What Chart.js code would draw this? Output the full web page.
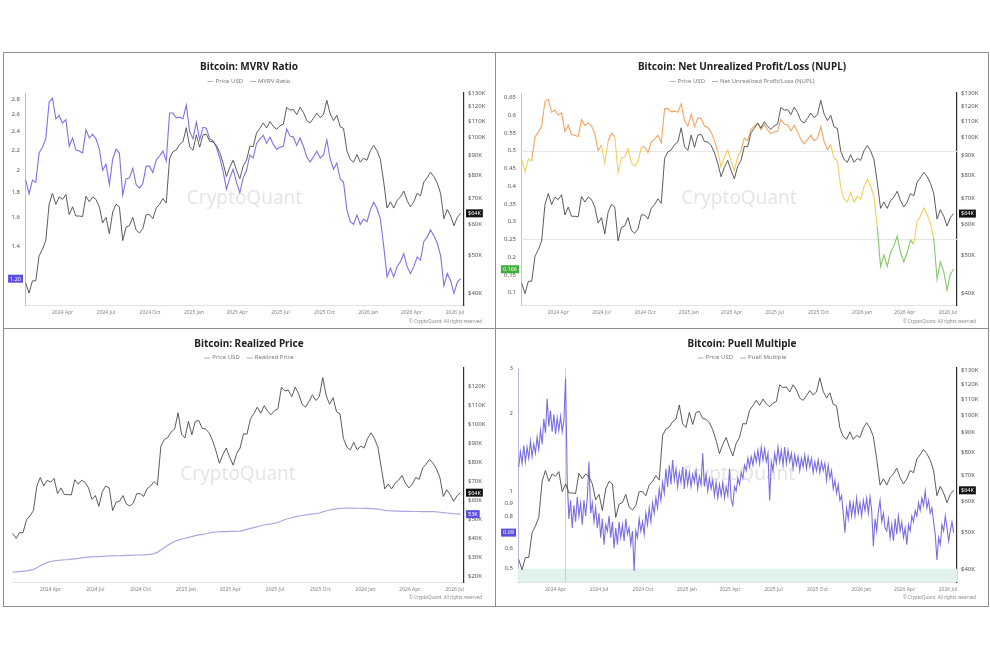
<!DOCTYPE html>
<html><head><meta charset="utf-8">
<script src="https://cdn.jsdelivr.net/npm/chart.js@4.4.0/dist/chart.umd.min.js"></script>
<style>
html,body{margin:0;padding:0;background:#fff;width:990px;height:660px;overflow:hidden;}
.frame{position:absolute;border:1px solid #8f8f8f;box-sizing:border-box;}
canvas{position:absolute;display:block;}
</style></head><body>
<div class="frame" style="left:3px;top:52px;width:493px;height:277px"></div>
<div class="frame" style="left:495px;top:52px;width:494px;height:277px"></div>
<div class="frame" style="left:3px;top:328px;width:493px;height:279px"></div>
<div class="frame" style="left:495px;top:328px;width:494px;height:279px"></div>
<canvas id="c1"></canvas><canvas id="c2"></canvas><canvas id="c3"></canvas><canvas id="c4"></canvas>
<script>
// ---------- DATA (samples starting 2024-01-15) ----------
const startDate = '2024-01-15';
const stepDays = 7;        // weekly samples for price, realized price, MVRV, NUPL
const puellStepDays = 3.5; // twice-weekly samples for the Puell multiple
const tickDates = ['2024-04-01','2024-07-01','2024-10-01','2025-01-01','2025-04-01','2025-07-01','2025-10-01','2026-01-01','2026-04-01','2026-07-01'];
const tickLabels = ['2024 Apr','2024 Jul','2024 Oct','2025 Jan','2025 Apr','2025 Jul','2025 Oct','2026 Jan','2026 Apr','2026 Jul'];
const halvingDate = '2024-04-20';

// BTC price, thousands of USD
const priceUSD = [42.5,40.0,43.0,43.0,49.8,51.8,54.5,67.5,72.0,67.5,
70.5,69.5,71.5,63.5,66.5,63.0,63.0,62.8,70.8,68.5,
70.5,69.5,66.5,60.5,62.5,56.8,64.5,67.5,66.5,54.5,
59.0,59.5,62.5,58.0,57.0,58.5,63.5,63.5,62.0,66.0,
67.5,69.8,68.0,88.5,92.0,93.0,96.0,97.5,106.0,94.8,
92.8,101.5,94.5,101.5,102.0,97.8,97.5,95.5,91.5,86.0,
79.5,84.0,87.5,82.5,78.5,84.5,87.5,95.0,94.8,102.8,
105.6,109.0,105.8,109.8,106.8,105.0,107.2,108.2,119.5,117.5,
118.0,114.5,119.5,116.0,110.5,109.0,112.0,115.5,112.5,114.5,
124.5,115.0,110.5,114.0,106.5,105.5,92.5,88.0,86.5,90.5,
86.5,88.5,87.5,92.5,95.5,92.5,88.0,77.0,66.0,68.5,
66.0,69.0,70.5,73.0,69.0,66.5,68.5,72.0,71.0,77.0,
79.0,81.5,79.5,76.5,72.0,62.0,65.5,63.0,59.5,62.5,
64.0];

// Realized price, thousands of USD
const realizedPrice = [22.2,22.3,22.5,22.7,22.9,23.2,23.5,24.5,25.6,26.5,
27.2,27.8,28.1,28.3,28.5,28.7,28.8,29.0,29.2,29.4,
29.7,30.0,30.1,30.2,30.3,30.4,30.5,30.6,30.7,30.7,
30.8,30.8,30.9,31.0,31.0,31.1,31.2,31.2,31.3,31.4,
31.5,31.9,32.6,33.8,35.1,36.3,37.4,38.3,39.0,39.5,
40.0,40.5,40.9,41.4,41.8,42.1,42.4,42.8,43.1,43.3,
43.4,43.5,43.5,43.6,43.6,43.7,43.8,44.2,44.7,45.2,
45.6,46.1,46.6,47.0,47.3,47.6,48.0,48.3,49.1,49.9,
50.4,50.8,51.3,51.7,52.0,52.3,52.5,52.8,53.0,53.3,
53.9,54.5,54.9,55.2,55.5,55.7,55.8,55.9,55.9,55.9,
55.8,55.8,55.7,55.7,55.6,55.5,55.3,55.0,54.7,54.5,
54.4,54.3,54.3,54.2,54.2,54.2,54.1,54.1,54.1,54.0,
54.0,54.0,54.0,53.9,53.7,53.5,53.3,53.1,52.9,52.8,
52.7];

const mvrvRatio = [1.91,1.79,1.91,1.89,2.17,2.23,2.32,2.76,2.81,2.55,
2.59,2.50,2.54,2.24,2.33,2.20,2.19,2.17,2.42,2.33,
2.37,2.32,2.21,2.00,2.06,1.87,2.11,2.21,2.17,1.78,
1.92,1.93,2.02,1.87,1.84,1.88,2.04,2.04,1.98,2.10,
2.14,2.19,2.09,2.62,2.62,2.56,2.57,2.55,2.72,2.40,
2.32,2.51,2.31,2.45,2.44,2.32,2.30,2.23,2.12,1.99,
1.83,1.93,2.01,1.89,1.80,1.93,2.00,2.15,2.12,2.27,
2.32,2.36,2.27,2.34,2.26,2.21,2.23,2.24,2.43,2.35,
2.34,2.25,2.33,2.24,2.13,2.08,2.13,2.19,2.12,2.15,
2.31,2.11,2.01,2.07,1.92,1.89,1.66,1.57,1.55,1.62,
1.55,1.59,1.57,1.66,1.72,1.67,1.59,1.40,1.21,1.26,
1.21,1.27,1.30,1.35,1.27,1.23,1.27,1.33,1.31,1.43,
1.46,1.51,1.47,1.42,1.34,1.16,1.23,1.19,1.12,1.18,
1.20];

const nupl = [0.476,0.441,0.476,0.471,0.539,0.552,0.569,0.638,0.644,0.608,
0.614,0.600,0.606,0.554,0.571,0.545,0.543,0.539,0.587,0.571,
0.578,0.569,0.548,0.500,0.515,0.465,0.526,0.548,0.539,0.438,
0.479,0.482,0.505,0.465,0.457,0.468,0.510,0.510,0.495,0.524,
0.533,0.543,0.522,0.618,0.618,0.609,0.611,0.608,0.632,0.583,
0.569,0.602,0.567,0.592,0.590,0.569,0.565,0.552,0.528,0.497,
0.454,0.482,0.502,0.471,0.444,0.482,0.500,0.535,0.528,0.559,
0.569,0.576,0.559,0.573,0.558,0.548,0.552,0.554,0.588,0.574,
0.573,0.556,0.571,0.554,0.531,0.519,0.531,0.543,0.528,0.535,
0.567,0.526,0.502,0.517,0.479,0.471,0.398,0.363,0.355,0.383,
0.355,0.371,0.363,0.398,0.419,0.401,0.371,0.286,0.174,0.206,
0.174,0.213,0.231,0.259,0.213,0.187,0.213,0.248,0.237,0.301,
0.315,0.338,0.320,0.296,0.254,0.138,0.187,0.160,0.107,0.153,
0.166];

// Puell multiple, sampled every 3.5 days
const puellMultiple = [1.24,1.42,1.28,1.50,1.30,1.48,1.34,1.56,1.36,1.52,
1.40,1.62,1.45,1.72,1.52,1.90,1.68,2.28,1.78,2.05,
1.70,1.98,1.66,1.92,1.72,1.95,1.70,1.88,2.74,1.10,
0.78,0.92,0.72,0.88,0.76,0.95,0.80,0.90,0.74,0.92,
0.80,0.94,1.30,0.82,0.90,0.76,0.86,0.72,0.82,0.66,
0.78,0.62,0.74,0.70,0.80,0.66,0.76,0.60,0.72,0.62,
0.76,0.66,0.74,0.64,0.78,0.68,0.72,0.62,0.70,0.49,
0.70,0.66,0.78,0.70,0.76,0.68,0.82,0.74,0.86,0.76,
0.90,0.82,0.94,0.86,1.02,0.92,1.08,0.98,1.22,1.04,
1.26,1.06,1.32,1.10,1.22,1.04,1.18,1.08,1.24,1.02,
1.22,1.06,1.18,1.04,1.16,1.08,1.20,1.02,1.14,1.06,
1.40,1.04,1.16,1.00,1.12,1.02,1.10,0.96,1.08,0.94,
1.06,0.96,1.08,0.94,1.04,0.96,1.22,0.92,0.88,1.04,
1.00,1.12,1.06,1.18,1.12,1.26,1.20,1.34,1.24,1.36,
1.26,1.40,1.30,1.44,1.28,1.48,1.32,1.46,1.30,1.40,
0.92,1.30,1.20,1.40,1.28,1.48,1.30,1.44,1.26,1.48,
1.28,1.44,1.30,1.40,1.22,1.38,1.26,1.36,1.20,1.34,
1.24,1.38,1.22,1.36,1.24,1.34,1.18,1.30,1.20,1.32,
1.18,1.30,1.20,1.28,1.10,1.26,1.12,1.20,1.02,1.10,
0.98,1.06,0.92,0.96,0.82,0.69,0.86,0.78,0.92,0.80,
0.90,0.80,0.94,0.82,0.90,0.80,0.92,0.84,0.94,0.82,
0.95,0.84,0.61,0.78,0.70,0.84,0.92,0.76,0.82,0.72,
0.70,0.78,0.66,0.74,0.64,0.78,0.68,0.80,0.70,0.76,
0.66,0.72,0.62,0.74,0.70,0.80,0.76,0.84,0.80,0.90,
0.84,0.94,0.88,1.00,0.86,0.92,0.82,0.86,0.76,0.68,
0.54,0.66,0.62,0.74,0.70,0.80,0.72,0.64,0.70,0.76,
0.69];

// tick values
const priceTicksLog = [40,50,60,70,80,90,100,110,120,130];
const priceTicksLin = [20,30,40,50,60,70,80,90,100,110,120];
const mvrvTicks = [1.2,1.4,1.6,1.8,2,2.2,2.4,2.6,2.8];
const nuplTicks = [0.1,0.15,0.2,0.25,0.3,0.35,0.4,0.45,0.5,0.55,0.6,0.65];
const puellTicks = [0.5,0.6,0.7,0.8,0.9,1,2,3];
const nuplZoneLines = [0.25,0.5];
const puellLowZone = 0.5;

// ---------- helpers ----------
const DAY = 86400000;
const dayOf = s => (Date.parse(s) - Date.parse(startDate)) / DAY;
const toPts = (arr, step) => arr.map((v, i) => ({x: i * (step || stepDays), y: v}));
const last = arr => arr[arr.length - 1];
const FONT = '"Noto Sans", "Open Sans", sans-serif';
Chart.defaults.font.family = FONT;

const COL = {
  price: '#4a4a4a', mvrv: '#7e72e6', realized: '#aaa6e6', puell: '#7a6ee3',
  orange: '#f3a463', yellow: '#f3cf5c', green: '#85c96c'
};

const decor = {
  id: 'decor',
  beforeDatasetsDraw(chart, args, o) {
    const {ctx, chartArea: a, scales} = chart;
    ctx.save();
    if (o.lowZone != null) {
      const y = scales.yL.getPixelForValue(o.lowZone);
      ctx.fillStyle = '#e1f2ea';
      ctx.fillRect(a.left, y, a.right - a.left, a.bottom - y);
    }
    if (o.zoneLines) {
      ctx.strokeStyle = '#e6e6e6'; ctx.lineWidth = 1;
      o.zoneLines.forEach(v => {
        const y = Math.round(scales.yL.getPixelForValue(v)) + 0.5;
        ctx.beginPath(); ctx.moveTo(a.left, y); ctx.lineTo(a.right, y); ctx.stroke();
      });
    }
    if (o.vline != null) {
      const x = Math.round(scales.x.getPixelForValue(o.vline)) + 0.5;
      ctx.strokeStyle = 'rgba(175,170,225,0.55)'; ctx.lineWidth = 1;
      ctx.beginPath(); ctx.moveTo(x, a.top); ctx.lineTo(x, a.bottom); ctx.stroke();
    }
    ctx.font = '19px ' + FONT;
    ctx.fillStyle = 'rgba(0,0,0,0.11)';
    ctx.textAlign = 'center'; ctx.textBaseline = 'middle';
    ctx.fillText('CryptoQuant', (a.left + a.right) / 2, (a.top + a.bottom) / 2);
    ctx.restore();
  },
  afterDraw(chart, args, o) {
    const {ctx, chartArea: a, scales, width} = chart;
    ctx.save();
    const cx = width / 2;
    ctx.font = 'bold 10px ' + FONT;
    ctx.fillStyle = '#222'; ctx.textAlign = 'center'; ctx.textBaseline = 'middle';
    ctx.fillText(o.title, cx, o.titleY);
    // legend
    ctx.font = '6px ' + FONT;
    const seg = 6, gap = 2, sp = 7;
    let tw = 0;
    o.legend.forEach(t => { tw += seg + gap + ctx.measureText(t).width; });
    tw += sp * (o.legend.length - 1);
    let x = cx - tw / 2;
    const ly = o.legendY;
    o.legend.forEach(t => {
      ctx.strokeStyle = '#9c9c9c'; ctx.lineWidth = 0.8;
      ctx.beginPath(); ctx.moveTo(x, ly + 0.5); ctx.lineTo(x + seg, ly + 0.5); ctx.stroke();
      x += seg + gap;
      ctx.fillStyle = '#7a7a7a'; ctx.textAlign = 'left'; ctx.textBaseline = 'middle';
      ctx.fillText(t, x, ly);
      x += ctx.measureText(t).width + sp;
    });
    // copyright
    ctx.font = '4.5px ' + FONT;
    ctx.fillStyle = '#8a8a8a'; ctx.textAlign = 'right'; ctx.textBaseline = 'middle';
    ctx.fillText('\u00A9 CryptoQuant. All rights reserved', width - 12, o.copyY);
    // badges
    (o.badges || []).forEach(b => {
      const y = scales[b.axis].getPixelForValue(b.value);
      ctx.font = '5.5px ' + FONT;
      const w = ctx.measureText(b.text).width + 4, h = 8;
      const bx = b.axis === 'yL' ? a.left - 2 - w : a.right + 2;
      ctx.fillStyle = b.bg; ctx.fillRect(bx, y - h / 2, w, h);
      ctx.fillStyle = '#fff'; ctx.textAlign = 'left'; ctx.textBaseline = 'middle';
      ctx.fillText(b.text, bx + 2, y + 0.3);
    });
    ctx.restore();
  }
};

const X_MIN = -1.5, X_MAX = 917;
const fmtNum = v => String(+(+v).toFixed(2));
const fmtK = v => '$' + v + 'K';

function makeChart(id, box, plot, cfg) {
  const cv = document.getElementById(id);
  cv.width = box.w; cv.height = box.h;
  cv.style.left = box.x + 'px'; cv.style.top = box.y + 'px';
  cv.style.width = box.w + 'px'; cv.style.height = box.h + 'px';
  const leftW = plot.l - box.x, rightW = box.x + box.w - plot.r;
  const topP = plot.t - box.y, botH = box.y + box.h - plot.b;
  const scales = {
    x: {
      type: 'linear', min: X_MIN, max: X_MAX,
      afterFit: s => { s.height = botH; },
      afterBuildTicks: s => { s.ticks = tickDates.map(d => ({value: dayOf(d)})); },
      ticks: {autoSkip: false, maxRotation: 0, padding: 5, font: {size: 5}, color: '#858585',
        callback: (v, i) => tickLabels[i]},
      grid: {display: false, drawTicks: false},
      border: {display: true, color: '#e2e2e2', width: 1}
    },
    yR: {
      type: cfg.right.type, position: 'right', min: cfg.right.min, max: cfg.right.max,
      afterFit: s => { s.width = rightW; },
      afterBuildTicks: s => { s.ticks = cfg.right.ticks.map(v => ({value: v})); },
      ticks: {autoSkip: false, padding: 4, font: {size: 6}, color: '#555', callback: fmtK},
      grid: {display: false, drawTicks: false},
      border: {display: true, color: '#2e2e2e', width: 1.2}
    }
  };
  if (cfg.left) {
    scales.yL = {
      type: cfg.left.type, position: 'left', min: cfg.left.min, max: cfg.left.max,
      afterFit: s => { s.width = leftW; },
      afterBuildTicks: s => { s.ticks = cfg.left.ticks.map(v => ({value: v})); },
      ticks: {autoSkip: false, padding: 5, font: {size: 6}, color: '#555', callback: fmtNum},
      grid: {display: false, drawTicks: false},
      border: {display: true, color: cfg.left.axisColor, width: 1}
    };
  }
  return new Chart(cv, {
    type: 'line',
    data: {datasets: cfg.datasets},
    options: {
      responsive: false, animation: false, devicePixelRatio: 1,
      layout: {padding: {top: topP, left: cfg.left ? 0 : leftW, right: 0, bottom: 0}},
      scales,
      elements: {point: {radius: 0}, line: {tension: 0}},
      plugins: {legend: {display: false}, tooltip: {enabled: false}, title: {display: false}, decor: cfg.decor}
    },
    plugins: [decor]
  });
}

const priceDS = axis => ({label: 'Price USD', data: toPts(priceUSD), yAxisID: axis, borderColor: COL.price, borderWidth: 0.9});

// Panel 1: MVRV
makeChart('c1', {x: 4, y: 53, w: 490, h: 275}, {l: 25, r: 464, t: 93, b: 305}, {
  left: {type: 'logarithmic', min: 1.06, max: 2.88, ticks: mvrvTicks, axisColor: '#bdb6f0'},
  right: {type: 'logarithmic', min: 37.3, max: 130, ticks: priceTicksLog},
  datasets: [priceDS('yR'),
    {label: 'MVRV Ratio', data: toPts(mvrvRatio), yAxisID: 'yL', borderColor: COL.mvrv, borderWidth: 1.1}],
  decor: {title: 'Bitcoin: MVRV Ratio', legend: ['Price USD', 'MVRV Ratio'], titleY: 14.5, legendY: 28, copyY: 268.5,
    badges: [{axis: 'yR', value: last(priceUSD), text: '$' + Math.round(last(priceUSD)) + 'K', bg: '#111'},
             {axis: 'yL', value: last(mvrvRatio), text: last(mvrvRatio).toFixed(2), bg: '#5a4de0'}]}
});

// Panel 2: NUPL
const nuplColor = v => v >= 0.5 ? COL.orange : (v >= 0.25 ? COL.yellow : COL.green);
makeChart('c2', {x: 496, y: 53, w: 492, h: 275}, {l: 521, r: 957, t: 93, b: 305}, {
  left: {type: 'linear', min: 0.0654, max: 0.662, ticks: nuplTicks, axisColor: '#a6dc9a'},
  right: {type: 'logarithmic', min: 37.4, max: 130, ticks: priceTicksLog},
  datasets: [priceDS('yR'),
    {label: 'Net Unrealized Profit/Loss (NUPL)', data: toPts(nupl), yAxisID: 'yL', borderColor: COL.orange, borderWidth: 1.1,
     segment: {borderColor: c => nuplColor((c.p0.parsed.y + c.p1.parsed.y) / 2)}}],
  decor: {title: 'Bitcoin: Net Unrealized Profit/Loss (NUPL)', legend: ['Price USD', 'Net Unrealized Profit/Loss (NUPL)'],
    titleY: 14.5, legendY: 28, copyY: 268.5, zoneLines: nuplZoneLines,
    badges: [{axis: 'yR', value: last(priceUSD), text: '$' + Math.round(last(priceUSD)) + 'K', bg: '#111'},
             {axis: 'yL', value: last(nupl), text: last(nupl).toFixed(3), bg: '#3fae3a'}]}
});

// Panel 3: Realized price
makeChart('c3', {x: 4, y: 329, w: 490, h: 277}, {l: 12, r: 464, t: 368, b: 582}, {
  left: null,
  right: {type: 'linear', min: 17, max: 129.6, ticks: priceTicksLin},
  datasets: [priceDS('yR'),
    {label: 'Realized Price', data: toPts(realizedPrice), yAxisID: 'yR', borderColor: COL.realized, borderWidth: 1.2}],
  decor: {title: 'Bitcoin: Realized Price', legend: ['Price USD', 'Realized Price'], titleY: 15, legendY: 28.5, copyY: 269,
    badges: [{axis: 'yR', value: last(priceUSD), text: '$' + Math.round(last(priceUSD)) + 'K', bg: '#111'},
             {axis: 'yR', value: last(realizedPrice), text: Math.round(last(realizedPrice)) + 'K', bg: '#5a4de0'}]}
});

// Panel 4: Puell multiple
makeChart('c4', {x: 496, y: 329, w: 492, h: 277}, {l: 518, r: 957, t: 368, b: 582}, {
  left: {type: 'logarithmic', min: 0.444, max: 3, ticks: puellTicks, axisColor: '#bdb6f0'},
  right: {type: 'logarithmic', min: 37.2, max: 132, ticks: priceTicksLog},
  datasets: [priceDS('yR'),
    {label: 'Puell Multiple', data: toPts(puellMultiple, puellStepDays), yAxisID: 'yL', borderColor: COL.puell, borderWidth: 1.1}],
  decor: {title: 'Bitcoin: Puell Multiple', legend: ['Price USD', 'Puell Multiple'], titleY: 15, legendY: 28.5, copyY: 269,
    lowZone: puellLowZone, vline: dayOf(halvingDate),
    badges: [{axis: 'yR', value: last(priceUSD), text: '$' + Math.round(last(priceUSD)) + 'K', bg: '#111'},
             {axis: 'yL', value: last(puellMultiple), text: last(puellMultiple).toFixed(2), bg: '#5a4de0'}]}
});
</script>
</body></html>
